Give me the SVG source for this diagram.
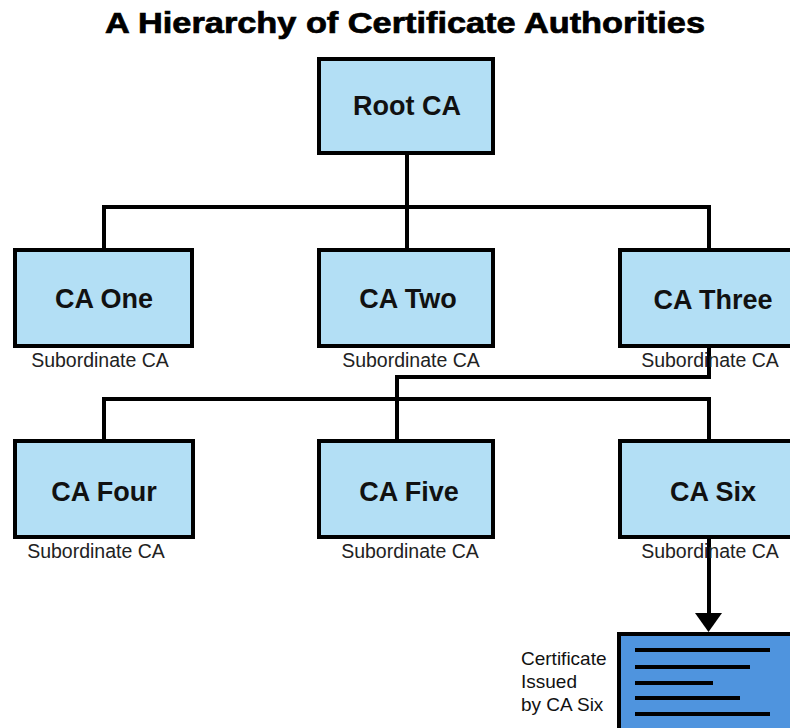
<svg xmlns="http://www.w3.org/2000/svg" width="790" height="728" viewBox="0 0 790 728">
  <style>
    .title { font-family: "Liberation Sans", Arial, sans-serif; font-weight: bold; font-size: 29px; fill: #000; stroke: #000; stroke-width: 0.7px; }
    .box { fill: #b3dff5; stroke: #000; stroke-width: 4; }
    .name { font-family: "Liberation Sans", Arial, sans-serif; font-weight: bold; font-size: 27px; fill: #111; text-anchor: middle; }
    .sub { font-family: "Liberation Sans", Arial, sans-serif; font-size: 19.5px; fill: #222; text-anchor: middle; }
    .wire { fill: none; stroke: #000; stroke-width: 4; }
    .cert { fill: #4f94de; stroke: #000; stroke-width: 4; }
    .rule { stroke: #000; stroke-width: 4; stroke-linecap: butt; }
    .note { font-family: "Liberation Sans", Arial, sans-serif; font-size: 19px; fill: #111; }
  </style>

  <text class="title" x="105" y="33" textLength="600" lengthAdjust="spacingAndGlyphs">A Hierarchy of Certificate Authorities</text>

  <!-- connectors -->
  <g id="connectors">
    <path class="wire" d="M407,155 V207 M104,250 V207 H709 V250 M407,207 V250"/>
    <path class="wire" d="M709,348 V377 H397 V442"/>
    <path class="wire" d="M104,442 V399 H709 V442"/>
    <path class="wire" d="M709,539 V615"/>
    <polygon points="695,613 722,613 708.5,632" fill="#000"/>
  </g>

  <g id="root-ca">
    <rect class="box" x="319" y="59" width="174" height="94"/>
    <text class="name" x="407" y="115">Root CA</text>
  </g>

  <g id="ca-one">
    <rect class="box" x="15" y="250" width="177" height="96"/>
    <text class="name" x="104" y="308">CA One</text>
    <text class="sub" x="100" y="367">Subordinate CA</text>
  </g>

  <g id="ca-two">
    <rect class="box" x="319" y="250" width="174" height="96"/>
    <text class="name" x="408" y="308">CA Two</text>
    <text class="sub" x="411" y="367">Subordinate CA</text>
  </g>

  <g id="ca-three">
    <rect class="box" x="620" y="250" width="176" height="96"/>
    <text class="name" x="713" y="309">CA Three</text>
    <text class="sub" x="710" y="367">Subordinate CA</text>
  </g>

  <g id="ca-four">
    <rect class="box" x="15" y="441" width="178" height="96"/>
    <text class="name" x="104" y="501">CA Four</text>
    <text class="sub" x="96" y="558">Subordinate CA</text>
  </g>

  <g id="ca-five">
    <rect class="box" x="319" y="441" width="174" height="96"/>
    <text class="name" x="409" y="501">CA Five</text>
    <text class="sub" x="410" y="558">Subordinate CA</text>
  </g>

  <g id="ca-six">
    <rect class="box" x="620" y="441" width="176" height="96"/>
    <text class="name" x="713" y="501">CA Six</text>
    <text class="sub" x="710" y="558">Subordinate CA</text>
  </g>

  <g id="certificate">
    <rect class="cert" x="619" y="634" width="200" height="120"/>
    <line class="rule" x1="635" y1="650" x2="770" y2="650"/>
    <line class="rule" x1="635" y1="667" x2="750" y2="667"/>
    <line class="rule" x1="635" y1="683" x2="713" y2="683"/>
    <line class="rule" x1="635" y1="698" x2="740" y2="698"/>
    <line class="rule" x1="635" y1="714" x2="770" y2="714"/>
    <text class="note" x="521" y="665">Certificate</text>
    <text class="note" x="521" y="688">Issued</text>
    <text class="note" x="521" y="711">by CA Six</text>
  </g>
</svg>
